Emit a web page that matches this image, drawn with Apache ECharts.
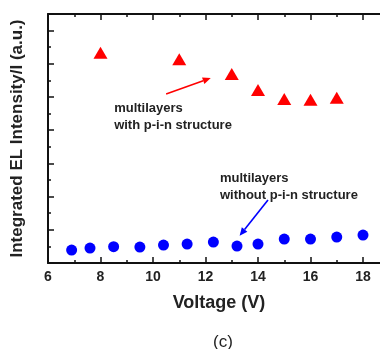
<!DOCTYPE html>
<html><head><meta charset="utf-8">
<script src="https://cdn.jsdelivr.net/npm/echarts@6/dist/echarts.min.js"></script>
<style>html,body{margin:0;padding:0;background:#fff}#c{width:380px;height:349px}</style>
</head><body><div id="c"></div>
<script>
const pinX = [8, 11, 13, 14, 15, 16, 17];
const pinY = [6.33, 6.14, 5.69, 5.21, 4.94, 4.92, 4.98];
const noPinX = [6.9, 7.6, 8.5, 9.5, 10.4, 11.3, 12.3, 13.2, 14, 15, 16, 17, 18];
const noPinY = [0.39, 0.45, 0.49, 0.48, 0.54, 0.57, 0.63, 0.51, 0.57, 0.72, 0.72, 0.78, 0.84];
const xTicks = [6, 8, 10, 12, 14, 16, 18];
const xTitle = 'Voltage (V)';
const yTitle = 'Integrated EL Intensity/I (a.u.)';
const noteRed = ['multilayers', 'with p-i-n structure'];
const noteBlue = ['multilayers', 'without p-i-n structure'];

const chart = echarts.init(document.getElementById('c'));
const FONT = '"Liberation Sans", Arial, sans-serif';
const axisCommon = {
  axisLine: {show: true, lineStyle: {color: '#111', width: 2}},
  axisTick: {show: true, inside: true, length: 6, lineStyle: {color: '#111', width: 1.5}},
  minorTick: {show: true, splitNumber: 2, length: 3, lineStyle: {color: '#111', width: 1.5}},
  splitLine: {show: false}
};
chart.setOption({
  animation: false,
  grid: {left: 48, top: 14, width: 367.5, height: 249, outerBoundsMode: 'none', containLabel: false},
  xAxis: [
    Object.assign({type: 'value', min: 6, max: 20, interval: 2, position: 'bottom',
      axisLabel: {fontFamily: FONT, fontWeight: 'bold', fontSize: 14, color: '#222', margin: 7,
        formatter: v => xTicks.includes(v) ? String(v) : ''}}, axisCommon),
    Object.assign({type: 'value', min: 6, max: 20, interval: 2, position: 'top',
      axisLabel: {show: false}}, axisCommon)
  ],
  yAxis: [
    Object.assign({type: 'value', min: 0, max: 7.5, interval: 1, position: 'left',
      name: yTitle, nameLocation: 'middle', nameGap: 22,
      nameTextStyle: {fontFamily: FONT, fontWeight: 'bold', fontSize: 17, color: '#222'},
      axisLabel: {show: false}}, axisCommon)
  ],
  series: [
    {type: 'scatter', xAxisIndex: 0, data: pinX.map((x, i) => [x, pinY[i]]),
     symbol: 'triangle', symbolSize: [14, 12], itemStyle: {color: '#ff0000', opacity: 1}},
    {type: 'scatter', xAxisIndex: 0, data: noPinX.map((x, i) => [x, noPinY[i]]),
     symbol: 'circle', symbolSize: 11, itemStyle: {color: '#0000ff', opacity: 1}}
  ]
});

function px(x, y) { return chart.convertToPixel({xAxisIndex: 0, yAxisIndex: 0}, [x, y]); }
const r0 = px(10.5, 5.09), r1 = px(12.2, 5.57);
const b0 = px(14.38, 1.9), b1 = px(13.3, 0.82);
const tR = px(8.52, 4.9), tB = px(12.55, 2.8);
const textStyle = {fontFamily: FONT, fontWeight: 'bold', fontSize: 13, fill: '#222', lineHeight: 17};
function arrow(p0, p1, color) {
  const ang = Math.atan2(p1[1] - p0[1], p1[0] - p0[0]);
  const L = 8, W = 3.5;
  const bx = p1[0] - L * Math.cos(ang), by = p1[1] - L * Math.sin(ang);
  const nx = -Math.sin(ang), ny = Math.cos(ang);
  return [
    {type: 'line', shape: {x1: p0[0], y1: p0[1], x2: bx, y2: by}, style: {stroke: color, lineWidth: 1.6}},
    {type: 'polygon', shape: {points: [[p1[0], p1[1]], [bx + nx * W, by + ny * W], [bx - nx * W, by - ny * W]]}, style: {fill: color}}
  ];
}
chart.setOption({
  graphic: [
    ...arrow(r0, r1, '#ff0000'),
    ...arrow(b0, b1, '#0000ff'),
    {type: 'text', x: tR[0], y: tR[1], style: Object.assign({text: noteRed.join('\n')}, textStyle)},
    {type: 'text', x: tB[0], y: tB[1], style: Object.assign({text: noteBlue.join('\n')}, textStyle)},
    {type: 'text', x: 219, y: 303, style: {text: xTitle, fontFamily: FONT, fontWeight: 'bold', fontSize: 18, fill: '#222', align: 'center', verticalAlign: 'middle'}},
    {type: 'text', x: 223, y: 342, style: {text: '(c)', fontFamily: FONT, fontSize: 17, fill: '#222', align: 'center', verticalAlign: 'middle'}}
  ]
});
</script></body></html>
